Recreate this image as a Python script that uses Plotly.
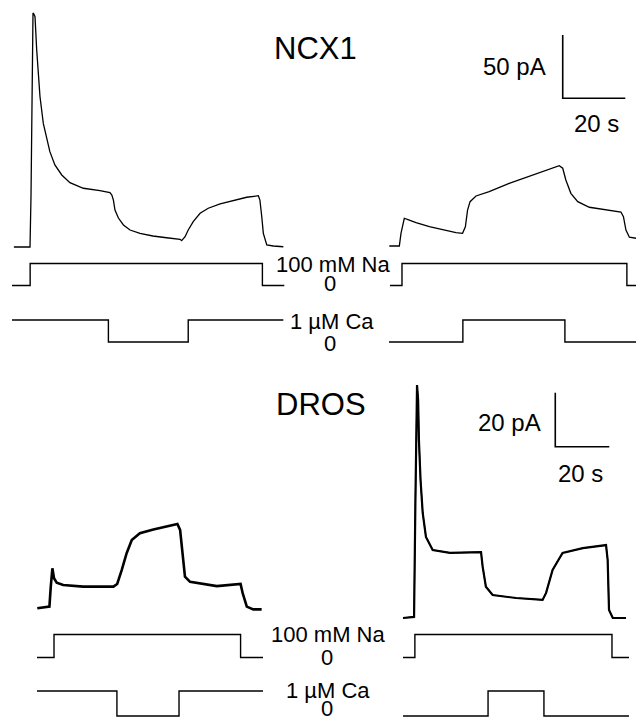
import plotly.graph_objects as go

W, H = 636, 721

# ---------------- data (time in s, current in pA) ----------------
# NCX1, left recording
ncx1_left_t = [0.6, 5.75, 6.07, 6.4, 6.71, 7.0, 7.35, 7.89, 8.40, 8.95, 10.0, 11.1, 12.1, 13.7,
               15.9, 18.5, 22.8, 28.1, 31.3, 31.9, 32.4, 32.9, 34.0, 35.6, 37.7, 40.9, 45.0,
               49.4, 53.7, 54.2, 55.3, 56.3, 57.9, 60.1, 62.7, 66.5, 70.7, 75.0, 78.7, 79.2,
               79.8, 80.3, 81.4, 83.5, 86.7]
ncx1_left_i = [0, 0, 40, 116, 184.8, 184, 181.9, 155.6, 134.5, 118.7, 97.6, 84.5, 75.3, 64.8,
               56.9, 50.8, 46.4, 44.5, 42.9, 41.1, 37.1, 29.2, 22.9, 17.4, 13.4, 10.8, 8.7,
               7.3, 6.1, 5.0, 8.1, 13.4, 20.0, 26.6, 30.6, 34.0, 36.6, 39.3, 40.5, 37.1,
               23.9, 10.8, 1.6, 0.8, 0.2]

# NCX1, right recording
ncx1_right_t = [0.1, 3.3, 3.83, 4.89, 6.49, 8.63, 12.9, 17.2, 21.4, 23.5, 24.4, 25.1, 25.9,
                27.8, 32.0, 38.4, 45.9, 51.2, 54.4, 55.5, 56.5, 58.1, 60.3, 64.0, 69.3,
                74.1, 74.9, 75.7, 76.8, 79.0]
ncx1_right_i = [0.8, 0.8, 10.8, 22.7, 21.3, 19.2, 16.0, 13.4, 11.3, 10.8, 16.0, 29.2, 35.8,
                40.3, 43.7, 50.3, 56.9, 61.4, 64.2, 62.2, 52.9, 42.4, 35.8, 31.4, 29.2,
                27.6, 23.9, 13.4, 7.7, 6.9]

# DROS, left recording
dros_left_t = [0.1, 4.6, 5.1, 5.7, 6.3, 7.3, 9.7, 17.1, 28.3, 29.7, 31.4, 33.2, 35.1, 38.1,
               43.1, 48.0, 52.0, 53.0, 54.0, 54.8, 56.7, 66.6, 75.4, 76.2, 77.7, 80.1, 83.2]
dros_left_i = [-0.1, 0.5, 7.9, 14.7, 11.0, 9.4, 8.5, 7.9, 7.9, 8.9, 14.1, 20.3, 25.2, 27.7,
               29.1, 30.1, 31.1, 28.9, 19.0, 11.6, 9.7, 8.1, 8.9, 5.4, 0.5, -0.5, -0.5]

# DROS, right recording
dros_right_t = [0.0, 3.7, 4.1, 4.6, 5.2, 5.6, 5.9, 6.5, 7.3, 8.5, 11.0, 17.4, 28.9, 29.5,
                30.7, 33.2, 41.9, 51.7, 53.0, 55.4, 59.1, 66.6, 75.2, 75.8, 76.3, 77.7, 82.6]
dros_right_i = [0.0, 0.4, 0.4, 43.7, 86.3, 80.7, 65.9, 51.1, 38.9, 30.0, 25.2, 24.1, 24.4,
                19.0, 11.6, 8.5, 7.4, 6.7, 9.3, 17.8, 24.1, 25.9, 27.0, 21.5, 3.0, 0.0, 0.0]

# Solution protocols (step times in s, levels)
ncx1_left_na_t = [0, 5.8, 80.0, 87.0]
ncx1_left_na = [0, 100, 0, 0]
ncx1_left_ca_t = [0, 30.8, 56.3, 86.7]
ncx1_left_ca = [1, 0, 1, 1]
ncx1_right_na_t = [0.3, 4.15, 76.0, 79.0]
ncx1_right_na = [0, 100, 0, 0]
ncx1_right_ca_t = [0, 23.6, 56.2, 79.0]
ncx1_right_ca = [0, 1, 0, 0]

dros_left_na_t = [0, 6.3, 75.4, 83.7]
dros_left_na = [0, 100, 0, 0]
dros_left_ca_t = [0, 29.6, 52.6, 83.7]
dros_left_ca = [1, 0, 1, 1]
dros_right_na_t = [0, 4.4, 77.4, 83.7]
dros_right_na = [0, 100, 0, 0]
dros_right_ca_t = [0, 31.5, 52.2, 83.7]
dros_right_ca = [0, 1, 0, 0]

# Scale bars
ncx1_scale_t, ncx1_scale_i = 20, 50
dros_scale_t, dros_scale_i = 20, 20

FONT = "Liberation Sans, Arial, Helvetica, sans-serif"


# ---------------- axis helpers (pixel layout) ----------------
def xax(px_left, px_right, px_zero, px_per_unit):
    return dict(domain=[px_left / W, px_right / W],
                range=[(px_left - px_zero) / px_per_unit, (px_right - px_zero) / px_per_unit],
                visible=False, fixedrange=True)


def yax(px_top, px_bottom, px_zero, px_per_unit):
    return dict(domain=[1 - px_bottom / H, 1 - px_top / H],
                range=[(px_zero - px_bottom) / px_per_unit, (px_zero - px_top) / px_per_unit],
                visible=False, fixedrange=True)


fig = go.Figure()


def line(x, y, xa, ya, width=1.3, shape="linear", color="black"):
    fig.add_trace(go.Scatter(x=x, y=y, xaxis=xa, yaxis=ya, mode="lines",
                             line=dict(color=color, width=width, shape=shape),
                             showlegend=False, hoverinfo="skip"))


# current traces
line(ncx1_left_t, ncx1_left_i, "x", "y", 1.3)
line(ncx1_right_t, ncx1_right_i, "x2", "y", 1.3)
line(dros_left_t, dros_left_i, "x3", "y4", 2.6)
line(dros_right_t, dros_right_i, "x4", "y5", 2.2)
# spike drawn thin on top
line(dros_right_t, dros_right_i, "x4", "y5", 1.2)

# protocols
line(ncx1_left_na_t, ncx1_left_na, "x", "y2", 1.4, "hv")
line(ncx1_right_na_t, ncx1_right_na, "x2", "y2", 1.4, "hv")
line(ncx1_left_ca_t, ncx1_left_ca, "x", "y3", 1.4, "hv")
line(ncx1_right_ca_t, ncx1_right_ca, "x2", "y3", 1.4, "hv")
line(dros_left_na_t, dros_left_na, "x3", "y6", 1.4, "hv")
line(dros_right_na_t, dros_right_na, "x4", "y6", 1.4, "hv")
line(dros_left_ca_t, dros_left_ca, "x3", "y7", 1.4, "hv")
line(dros_right_ca_t, dros_right_ca, "x4", "y7", 1.4, "hv")

# scale bars (anchored at a corner position in each right-hand panel)
ncx1_bar_t0, ncx1_bar_i0 = 55.5, 117.5
line([ncx1_bar_t0, ncx1_bar_t0, ncx1_bar_t0 + ncx1_scale_t],
     [ncx1_bar_i0 + ncx1_scale_i, ncx1_bar_i0, ncx1_bar_i0], "x2", "y", 1.6)
dros_bar_t0, dros_bar_i0 = 56.4, 63.4
line([dros_bar_t0, dros_bar_t0, dros_bar_t0 + dros_scale_t],
     [dros_bar_i0 + dros_scale_i, dros_bar_i0, dros_bar_i0], "x4", "y5", 1.6)

# ---------------- annotations ----------------
ann = []


def txt(s, x_px, y_px, size, xanchor="center"):
    ann.append(dict(text=s, x=x_px / W, y=1 - y_px / H, xref="paper", yref="paper",
                    xanchor=xanchor, yanchor="middle", showarrow=False,
                    font=dict(family=FONT, size=size, color="black")))


txt("NCX1", 315.5, 49, 31)
txt("DROS", 321, 404, 31)
txt(f"{ncx1_scale_i} pA", 548, 67, 24, "right")
txt(f"{ncx1_scale_t} s", 596, 123, 24)
txt(f"{dros_scale_i} pA", 543, 422, 24, "right")
txt(f"{dros_scale_t} s", 580, 473, 24)

txt("100 mM Na", 333, 264, 22)
txt("0", 330, 283, 22)
txt("1 µM Ca", 332, 321, 22)
txt("0", 330, 343, 22)
txt("100 mM Na", 328, 634, 22)
txt("0", 327, 657, 22)
txt("1 µM Ca", 328, 690, 22)
txt("0", 327, 708, 22)

fig.update_layout(
    width=W, height=H,
    margin=dict(l=0, r=0, t=0, b=0),
    paper_bgcolor="white", plot_bgcolor="rgba(0,0,0,0)",
    showlegend=False,
    annotations=ann,
    xaxis=xax(0, 318, 12, 3.13),
    xaxis2=xax(318, 636, 389, 3.13),
    xaxis3=xax(0, 318, 37, 2.7),
    xaxis4=xax(318, 636, 403, 2.7),
    yaxis=yax(0, 255, 247, 1.266),
    yaxis2=yax(255, 300, 285.5, 0.22),
    yaxis3=yax(305, 355, 342, 22),
    yaxis4=yax(370, 625, 608, 2.7),
    yaxis5=yax(370, 625, 618, 2.7),
    yaxis6=yax(625, 670, 657.5, 0.23),
    yaxis7=yax(675, 721, 716, 25),
)

fig.write_html("out.html", config={"displayModeBar": False},
               post_script="document.body.style.margin='0px';document.body.style.overflow='hidden';")
